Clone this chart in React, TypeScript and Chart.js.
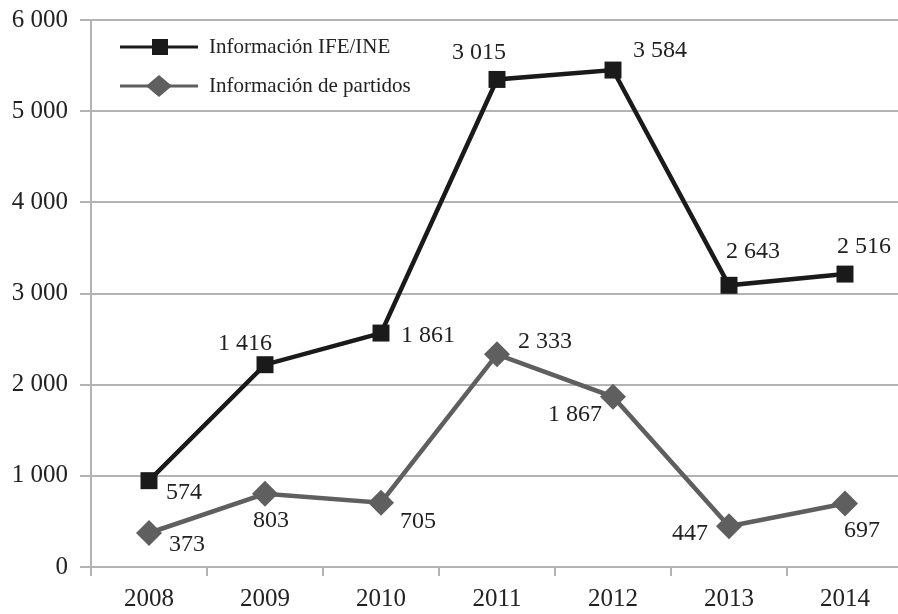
import React, { useEffect, useRef } from "react";
import { Chart, registerables } from "chart.js";

Chart.register(...registerables);

const categories = ["2008", "2009", "2010", "2011", "2012", "2013", "2014"];
const partidos = [373, 803, 705, 2333, 1867, 447, 697];
const ifeIne = [574, 1416, 1861, 3015, 3584, 2643, 2516];
const yTicks = [0, 1000, 2000, 3000, 4000, 5000, 6000];

// label offsets relative to each point (style only)
const ifeOffsets = [[35, 12], [-20, -21], [47, 3], [-18, -27], [47, -19], [24, -34], [19, -27]];
const partOffsets = [[38, 12], [6, 27], [37, 19], [48, -13], [-38, 18], [-39, 7], [17, 27]];

const fmt = (v: number) => String(Math.round(v)).replace(/\B(?=(\d{3})+(?!\d))/g, " ");

const FONT = "'Liberation Serif', 'DejaVu Serif', serif";

export default function App() {
  const ref = useRef<HTMLCanvasElement>(null);
  useEffect(() => {
    if (!ref.current) return;
    const labelPlugin = {
      id: "labels",
      afterDatasetsDraw(chart: any) {
        const ctx = chart.ctx;
        ctx.save();
        ctx.font = `24px ${FONT}`;
        ctx.fillStyle = "#222";
        ctx.textAlign = "center";
        ctx.textBaseline = "middle";
        chart.data.datasets.forEach((ds: any, di: number) => {
          const meta = chart.getDatasetMeta(di);
          const offs = di === 0 ? partOffsets : ifeOffsets;
          meta.data.forEach((pt: any, i: number) => {
            ctx.fillText(fmt(ds.data[i]), pt.x + offs[i][0], pt.y + offs[i][1]);
          });
        });
        // legend inside plot area
        const items = [
          { ds: chart.data.datasets[1], y: 47 },
          { ds: chart.data.datasets[0], y: 86 },
        ];
        items.forEach(({ ds, y }) => {
          ctx.strokeStyle = ds.borderColor;
          ctx.lineWidth = 3;
          ctx.beginPath();
          ctx.moveTo(120, y);
          ctx.lineTo(198, y);
          ctx.stroke();
          ctx.fillStyle = ds.pointBackgroundColor;
          if (ds.pointStyle === "rect") {
            ctx.fillRect(152, y - 8, 16, 16);
          } else {
            ctx.beginPath();
            ctx.moveTo(159, y - 11);
            ctx.lineTo(172, y);
            ctx.lineTo(159, y + 11);
            ctx.lineTo(146, y);
            ctx.closePath();
            ctx.fill();
          }
          ctx.fillStyle = "#222";
          ctx.font = `21px ${FONT}`;
          ctx.textAlign = "left";
          ctx.fillText(ds.label, 209, y);
        });
        ctx.restore();
      },
    };
    const chart = new Chart(ref.current, {
      type: "line",
      data: {
        labels: categories,
        datasets: [
          {
            label: "Información de partidos",
            data: partidos,
            borderColor: "#5f5f5f",
            backgroundColor: "#5f5f5f",
            pointBackgroundColor: "#5f5f5f",
            pointBorderColor: "#5f5f5f",
            borderWidth: 4.5,
            pointStyle: "rectRot",
            pointRadius: 13,
            pointBorderWidth: 0,
            fill: false,
            tension: 0,
          },
          {
            label: "Información IFE/INE",
            data: ifeIne,
            borderColor: "#1a1a1a",
            backgroundColor: "#1a1a1a",
            pointBackgroundColor: "#1a1a1a",
            pointBorderColor: "#1a1a1a",
            borderWidth: 4.5,
            pointStyle: "rect",
            pointRadius: 12,
            pointBorderWidth: 0,
            fill: false,
            tension: 0,
          },
        ],
      },
      options: {
        animation: false,
        responsive: false,
        layout: { padding: { top: 20, right: 0, left: 0, bottom: 0 } },
        plugins: { legend: { display: false }, tooltip: { enabled: false } },
        scales: {
          x: {
            offset: true,
            grid: {
              display: true,
              offset: true,
              drawOnChartArea: false,
              drawTicks: true,
              tickLength: 9,
              color: "#b3b3b3",
              lineWidth: 2,
            },
            border: { display: true, color: "#b3b3b3", width: 2 },
            ticks: { color: "#222", font: { family: FONT, size: 25 }, padding: 8, maxRotation: 0 },
            afterFit(scale: any) {
              scale.height = 47;
              scale.paddingLeft = 0;
              scale.paddingRight = 0;
            },
          },
          y: {
            stacked: true,
            min: 0,
            max: 6000,
            afterBuildTicks(scale: any) {
              scale.ticks = yTicks.map((v) => ({ value: v }));
            },
            grid: {
              color: "#b3b3b3",
              lineWidth: 2,
              drawTicks: true,
              tickLength: 11,
            },
            border: { display: true, color: "#b3b3b3", width: 2 },
            ticks: {
              color: "#222",
              font: { family: FONT, size: 25 },
              padding: 12,
              callback: (v: any) => fmt(Number(v)),
            },
            afterFit(scale: any) {
              scale.width = 91;
              scale.paddingTop = 0;
              scale.paddingBottom = 0;
            },
          },
        },
      },
      plugins: [labelPlugin],
    } as any);
    return () => chart.destroy();
  }, []);
  return (
    <div style={{ position: "fixed", left: 0, top: 0, width: 898, height: 614, background: "#fff", overflow: "hidden" }}>
      <canvas ref={ref} width={916} height={614} style={{ width: 916, height: 614, display: "block" }} />
    </div>
  );
}
